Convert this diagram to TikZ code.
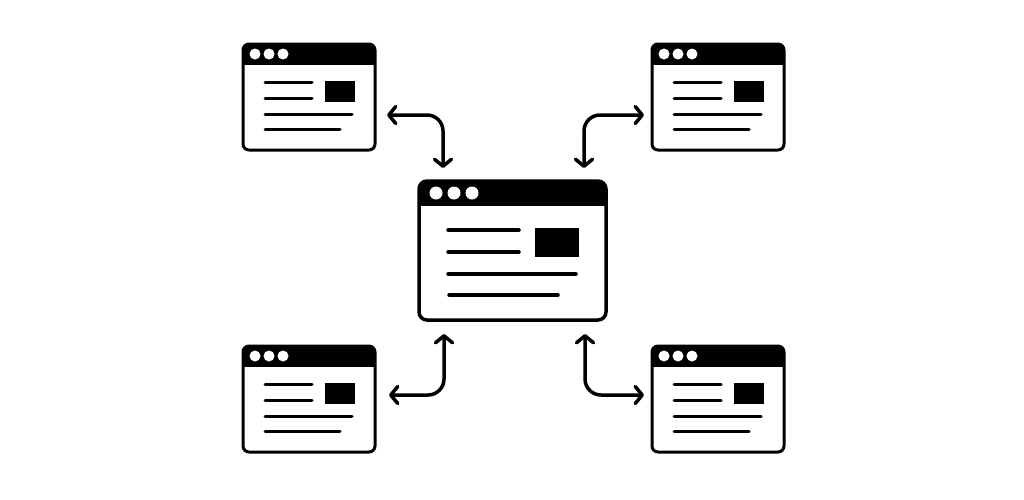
\documentclass[tikz,border=0pt]{standalone}
\usetikzlibrary{arrows.meta,calc}
\tikzset{
  winbox/.style={fill=white, inner sep=0pt, outer sep=0pt, anchor=north west},
  frame/.style={line width=3pt, rounded corners=6pt},
  txt/.style={line width=3pt, line cap=round},
  conn/.style={line width=3.5pt, rounded corners=16pt, line cap=round,
    {Straight Barb[length=7pt,width=17pt,line cap=round,line join=round]}-{Straight Barb[length=7pt,width=17pt,line cap=round,line join=round]}},
}
\newcommand\smallwin[3]{%
  \node[winbox, minimum width=132pt, minimum height=106pt] (#1) at (#2,#3) {};
  \begin{scope}[shift={(#1.north west)}]
    \begin{scope}
      \clip[rounded corners=6pt] (0,0) rectangle (132,106);
      \fill (0,0) rectangle (132,21);
    \end{scope}
    \draw[frame] (0,0) rectangle (132,106);
    \fill[white] (12,10) circle (5.5pt) (26,10) circle (5.5pt) (40,10) circle (5.5pt);
    \draw[txt] (22,38) -- (69,38) (22,54) -- (69,54) (22,70) -- (109,70) (22,85) -- (97,85);
    \fill (82,37) rectangle (112,58);
  \end{scope}}
\begin{document}
\begin{tikzpicture}[x=1pt,y=-1pt]
  \fill[white] (0,0) rectangle (1024,499);
  \useasboundingbox (0,0) rectangle (1024,499);
  % windows
  \smallwin{tl}{243}{44}
  \smallwin{tr}{652}{44}
  \smallwin{bl}{243}{346}
  \smallwin{br}{652}{346}
  % central window
  \node[winbox, minimum width=187pt, minimum height=139pt] (c) at (419,181) {};
  \begin{scope}[shift={(c.north west)}]
    \begin{scope}
      \clip[rounded corners=8pt] (0,0) rectangle (187,139);
      \fill (0,0) rectangle (187,25);
    \end{scope}
    \draw[frame, line width=3.5pt, rounded corners=8pt] (0,0) rectangle (187,139);
    \fill[white] (17,12) circle (6.5pt) (35,12) circle (6.5pt) (53,12) circle (6.5pt);
    \draw[txt, line width=3.5pt] (29,49) -- (100,49) (29,71) -- (100,71) (29,93) -- (157,93) (30,114) -- (139,114);
    \fill (116,47) rectangle (160,76);
  \end{scope}
  % connectors
  \draw[conn] ($(tl.north east)+(12,71)$) -| ($(c.north west)+(24,-13)$);
  \draw[conn] ($(tr.north west)+(-8,71)$) -| ($(c.north east)+(-22,-13)$);
  \draw[conn] ($(bl.north east)+(14,49)$) -| ($(c.south west)+(25,14)$);
  \draw[conn] ($(br.north west)+(-8,49)$) -| ($(c.south east)+(-21,14)$);
\end{tikzpicture}
\end{document}
